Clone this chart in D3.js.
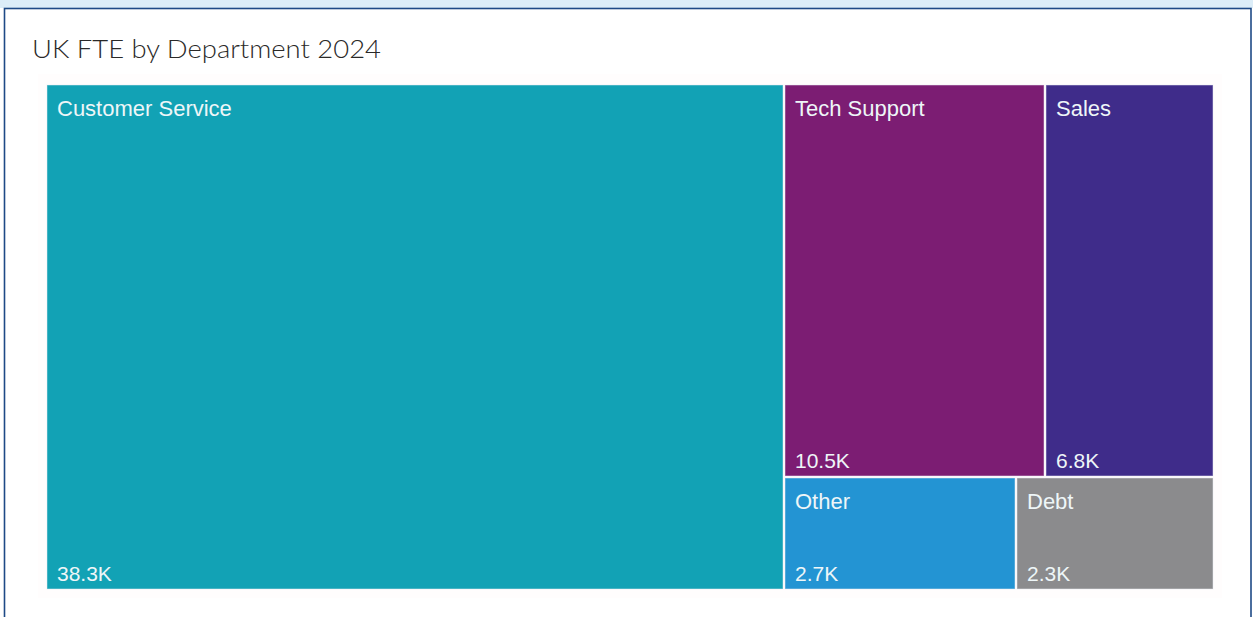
<!DOCTYPE html>
<html>
<head>
<meta charset="utf-8">
<script src="https://cdn.jsdelivr.net/npm/d3@7"></script>
<style>
  html, body { margin: 0; padding: 0; background: #ffffff; }
  svg { display: block; }
</style>
</head>
<body>
<svg id="chart" width="1253" height="617"></svg>
<script>
// Full-time equivalent headcount by department (thousands)
const departments = ["Customer Service", "Tech Support", "Sales", "Other", "Debt"];
const fteValues   = [38.3, 10.5, 6.8, 2.7, 2.3];
const valueLabels = ["38.3K", "10.5K", "6.8K", "2.7K", "2.3K"];
const tileColors  = ["#12a2b5", "#7c1d73", "#3f2c8a", "#2394d3", "#8b8b8d"];

// Tile grouping: the large department on its own, the rest in two rows
const rowGroups = [[1, 2], [3, 4]];

const W = 1253, H = 617;
const svg = d3.select("#chart");

// Card frame
svg.append("rect").attr("x", 0).attr("y", 0).attr("width", W).attr("height", 8)
  .attr("fill", "#dcedf8");
svg.append("rect").attr("x", 4.5).attr("y", 8.5).attr("width", W - 6.5).attr("height", H + 10)
  .attr("fill", "#ffffff").attr("stroke", "#1e4a86").attr("stroke-width", 1.6);

// Title
svg.append("text")
  .attr("x", 32).attr("y", 58)
  .attr("font-family", "'URW Gothic', 'Century Gothic', 'Lato', sans-serif")
  .attr("font-size", 26)
  .attr("font-weight", 300)
  .attr("fill", "#2a2928")
  .attr("textLength", 349)
  .attr("lengthAdjust", "spacingAndGlyphs")
  .text("UK FTE by Department 2024");

// Plot area
const plot = { x: 47, y: 85, w: 1166, h: 504 };
svg.append("rect")
  .attr("x", plot.x - 9).attr("y", plot.y - 11)
  .attr("width", plot.w + 18).attr("height", plot.h + 20)
  .attr("fill", "#fffdfd");

const leaf = i => ({ name: departments[i], value: fteValues[i], label: valueLabels[i], color: tileColors[i] });
const data = {
  name: "root",
  children: [
    leaf(0),
    { name: "rest", children: rowGroups.map((row, r) => ({ name: "row" + r, children: row.map(leaf) })) }
  ]
};

const root = d3.hierarchy(data).sum(d => d.value || 0);
d3.treemap()
  .tile(d3.treemapSliceDice)
  .size([plot.w, plot.h])
  .paddingInner(2)
  .round(true)(root);

const g = svg.append("g").attr("transform", `translate(${plot.x},${plot.y})`);
const tiles = g.selectAll("g.tile").data(root.leaves()).join("g")
  .attr("class", "tile")
  .attr("transform", d => `translate(${d.x0},${d.y0})`);

tiles.append("rect")
  .attr("width", d => d.x1 - d.x0)
  .attr("height", d => d.y1 - d.y0)
  .attr("fill", d => d.data.color)
  .attr("stroke", "#e9eef4")
  .attr("stroke-opacity", 0.5)
  .attr("stroke-width", 1);

tiles.append("text")
  .attr("x", 10).attr("y", 31)
  .attr("font-family", "'Liberation Sans', Arial, sans-serif")
  .attr("font-size", 22)
  .attr("fill", "#eef6f8")
  .text(d => d.data.name);

tiles.append("text")
  .attr("x", 10).attr("y", d => d.y1 - d.y0 - 8)
  .attr("font-family", "'Liberation Sans', Arial, sans-serif")
  .attr("font-size", 21)
  .attr("fill", "#eef6f8")
  .text(d => d.data.label);
</script>
</body>
</html>
